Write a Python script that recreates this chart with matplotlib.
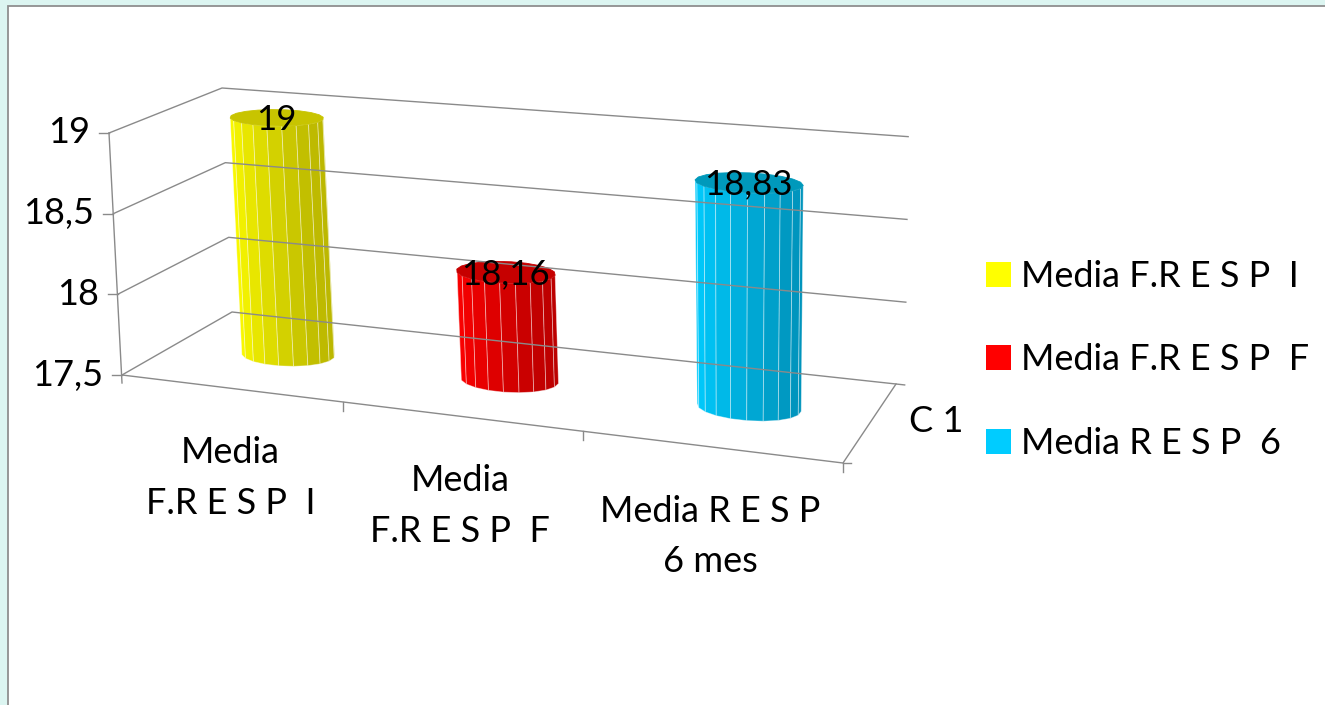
import numpy as np
import matplotlib.pyplot as plt
from matplotlib.patches import Polygon, Rectangle, Patch
from matplotlib.colors import to_rgb

plt.rcParams['font.family'] = ['Lato', 'DejaVu Sans']

categories = ['Media\nF.R E S P  I', 'Media\nF.R E S P  F', 'Media R E S P\n6 mes']
series = ['Media F.R E S P  I', 'Media F.R E S P  F', 'Media R E S P  6']
values = [19, 18.16, 18.83]
value_labels = ['19', '18,16', '18,83']
yticks = [17.5, 18, 18.5, 19]
ytick_labels = ['17,5', '18', '18,5', '19']
depth_label = 'C 1'

light = ['#ffff00', '#ff0000', '#00ccff']
dark = ['#bcb800', '#bc0000', '#0094bc']
top_col = ['#c8c400', '#c60000', '#0099bb']

vmin, vmax = yticks[0], yticks[-1]

# box corners in pixels: (category x 0..3, depth z 0..1) on the floor and on the top plane
corners_xz = [(0, 0), (3, 0), (0, 1), (3, 1)]
floor_px = [(122, 375), (843, 463), (232, 312), (896, 384)]
top_px = [(109, 133), (853, 195), (222, 88), (899, 136)]


def homography(src, dst):
    rows = []
    for (x, y), (u, v) in zip(src, dst):
        rows.append([x, y, 1, 0, 0, 0, -u * x, -u * y, -u])
        rows.append([0, 0, 0, x, y, 1, -v * x, -v * y, -v])
    _, _, vt = np.linalg.svd(np.array(rows, float))
    return vt[-1].reshape(3, 3)


H_floor = homography(corners_xz, floor_px)
H_top = homography(corners_xz, top_px)


def apply_h(H, x, z):
    q = H @ np.array([x, z, 1.0])
    return q[:2] / q[2]


def proj(x, v, z):
    h = (v - vmin) / (vmax - vmin)
    b, t = apply_h(H_floor, x, z), apply_h(H_top, x, z)
    return b + h * (t - b)


fig = plt.figure(figsize=(13.25, 7.05), dpi=100)
fig.patch.set_facecolor('#dcf5f1')
ax = fig.add_axes([0, 0, 1, 1])
ax.set_xlim(0, 1325)
ax.set_ylim(705, 0)
ax.axis('off')
ax.add_patch(Rectangle((8, 6), 1400, 800, facecolor='white', edgecolor='#8f8f8f', lw=1.3))

grid_c = '#8a8a8a'
# walls: gridlines on the left side wall and the back wall
for v, lab in zip(yticks, ytick_labels):
    p0, p1, p2 = proj(0, v, 0), proj(0, v, 1), proj(3.035, v, 1)
    ax.plot([p0[0], p1[0], p2[0]], [p0[1], p1[1], p2[1]], color=grid_c, lw=1)
    ax.plot([p0[0] - 10, p0[0]], [p0[1], p0[1]], color=grid_c, lw=1)
    ax.text(p0[0] - 19, p0[1], lab, ha='right', va='center', fontsize=26)

# value axis and floor edges
a, b = proj(0, vmax, 0), proj(0, vmin, 0)
ax.plot([a[0], b[0]], [a[1], b[1] + 8], color=grid_c, lw=1)
f0, f1, f2 = proj(0, vmin, 0), proj(3, vmin, 0), proj(3, vmin, 1)
ax.plot([f0[0], f1[0], f2[0]], [f0[1], f1[1], f2[1]], color=grid_c, lw=1)
for i in range(1, 4):
    t = proj(i, vmin, 0)
    ax.plot([t[0], t[0]], [t[1], t[1] + 9], color=grid_c, lw=1)
ax.plot([f1[0], f1[0] + 8], [f1[1], f1[1]], color=grid_c, lw=1)

# cylinders
n_fac = 20
rx, rz = 0.205, 0.16
ang = np.linspace(0, 2 * np.pi, n_fac + 1) + np.pi / n_fac
for i, val in enumerate(values):
    xc, zc = i + 0.52, 0.5
    ring_b = [proj(xc + rx * np.cos(t), vmin, zc + rz * np.sin(t)) for t in ang]
    ring_t = [proj(xc + rx * np.cos(t), val, zc + rz * np.sin(t)) for t in ang]
    c_l, c_d = np.array(to_rgb(light[i])), np.array(to_rgb(dark[i]))
    for k in range(n_fac):
        pts = np.array([ring_b[k], ring_b[k + 1], ring_t[k + 1], ring_t[k]])
        x, y = pts[:, 0], pts[:, 1]
        area = np.sum(x * np.roll(y, -1) - np.roll(x, -1) * y)
        if area >= 0:
            continue
        s = (1 + np.cos((ang[k] + ang[k + 1]) / 2)) / 2
        col = c_l * (1 - s) + c_d * s
        ax.add_patch(Polygon(pts, closed=True, facecolor=col,
                             edgecolor=(1, 1, 1, 0.45), lw=0.6))
    ax.add_patch(Polygon(np.array(ring_t[:-1]), closed=True, facecolor=top_col[i],
                         edgecolor=top_col[i], lw=0.6))
    c = proj(xc, val, zc)
    ax.text(c[0], c[1] + 2, value_labels[i], ha='center', va='center', fontsize=25)

# category labels under the front edge
for i, lab in enumerate(categories):
    p = proj(i + 0.5, vmin, 0)
    ax.text(p[0], p[1] + 48, lab, ha='center', va='top', fontsize=26, linespacing=1.65)

d = proj(3, vmin, 0.5)
ax.text(d[0] + 38, d[1], depth_label, ha='left', va='center', fontsize=26)

handles = [Patch(facecolor=light[i], edgecolor='none') for i in range(3)]
ax.legend(handles, series, loc='center left', bbox_to_anchor=(986 / 1325, 1 - 360 / 705),
          bbox_transform=fig.transFigure, frameon=False, fontsize=26,
          handlelength=0.69, handleheight=0.69, handletextpad=0.28,
          labelspacing=1.39, borderpad=0, borderaxespad=0)

fig.savefig('out.png', dpi=100)
